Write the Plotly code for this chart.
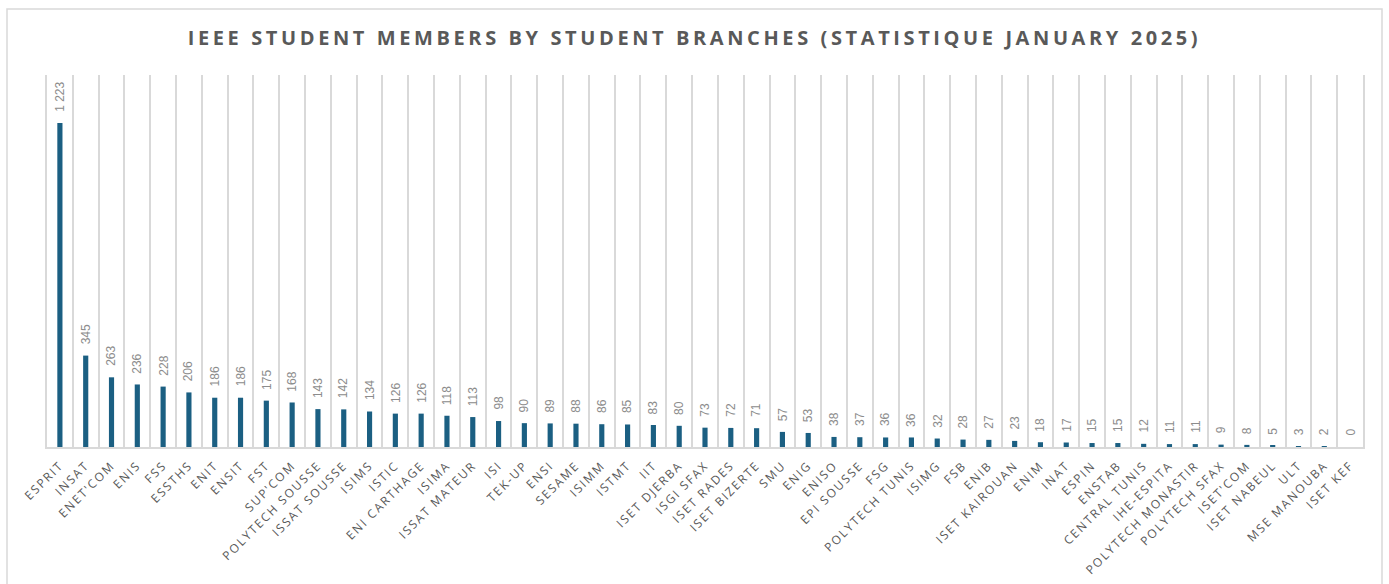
import plotly.graph_objects as go

branches = ["ESPRIT", "INSAT", "ENET'COM", "ENIS", "FSS", "ESSTHS", "ENIT", "ENSIT", "FST", "SUP'COM",
            "POLYTECH SOUSSE", "ISSAT SOUSSE", "ISIMS", "ISTIC", "ENI CARTHAGE", "ISIMA", "ISSAT MATEUR",
            "ISI", "TEK-UP", "ENSI", "SESAME", "ISIMM", "ISTMT", "IIT", "ISET DJERBA", "ISGI SFAX",
            "ISET RADES", "ISET BIZERTE", "SMU", "ENIG", "ENISO", "EPI SOUSSE", "FSG", "POLYTECH TUNIS",
            "ISIMG", "FSB", "ENIB", "ISET KAIROUAN", "ENIM", "INAT", "ESPIN", "ENSTAB", "CENTRAL TUNIS",
            "IHE-ESPITA", "POLYTECH MONASTIR", "POLYTECH SFAX", "ISET'COM", "ISET NABEUL", "ULT",
            "MSE MANOUBA", "ISET KEF"]
members = [1223, 345, 263, 236, 228, 206, 186, 186, 175, 168,
           143, 142, 134, 126, 126, 118, 113,
           98, 90, 89, 88, 86, 85, 83, 80, 73,
           72, 71, 57, 53, 38, 37, 36, 36,
           32, 28, 27, 23, 18, 17, 15, 15, 12,
           11, 11, 9, 8, 5, 3,
           2, 0]
labels = [f"{v:,}".replace(",", " ") for v in members]

W, H = 1389, 584
L, R, T, B = 47, 26, 75, 137
pw, ph = W - L - R, H - T - B

fig = go.Figure(go.Bar(
    x=branches, y=members,
    marker=dict(color="#1b5f82", line=dict(width=0)),
    width=0.2, hoverinfo="x+y",
))

for b, v, s in zip(branches, members, labels):
    fig.add_annotation(x=b, y=v, text=s, textangle=-90, showarrow=False,
                       xanchor="center", yanchor="bottom", yshift=9,
                       font=dict(family="Liberation Sans, Arial", size=12, color="#8c8c8c"))

def px_x(p):
    return (p - L) / pw

def px_y(p):
    return (H - B - p) / ph

fig.add_shape(type="rect", xref="paper", yref="paper",
              x0=px_x(7), x1=px_x(1382), y0=px_y(700), y1=px_y(9),
              line=dict(color="#d9d9d9", width=1.5), fillcolor="rgba(0,0,0,0)", layer="below")

fig.update_layout(
    width=W, height=H,
    margin=dict(l=L, r=R, t=T, b=B, pad=0, autoexpand=False),
    paper_bgcolor="white", plot_bgcolor="white",
    showlegend=False,
    title=dict(text="IEEE STUDENT MEMBERS BY STUDENT BRANCHES (STATISTIQUE JANUARY 2025)",
               x=0.5, xanchor="center", xref="container",
               y=1 - 38 / H, yanchor="middle", yref="container",
               font=dict(family="Open Sans", size=20, color="#595959", weight="bold")),
    xaxis=dict(type="category", tickson="boundaries", showgrid=True, gridcolor="#d9d9d9", gridwidth=1.5,
               tickangle=-45, tickfont=dict(family="Open Sans", size=12, color="#595959"),
               ticks="", ticklabelstandoff=5, showline=True, linecolor="#d9d9d9", linewidth=1.5,
               automargin=False, range=[-0.5, len(branches) - 0.5]),
    yaxis=dict(range=[0, 1404], showgrid=False, showticklabels=False, zeroline=False, automargin=False,
               showline=True, mirror=True, linecolor="#d9d9d9", linewidth=1.5, ticks=""),
)

post = """
document.body.style.margin = '0';
document.documentElement.style.overflow = 'hidden';
var gd = document.getElementById('{plot_id}');
gd.querySelectorAll('.gtitle').forEach(function(t){ t.style.letterSpacing = '3.6px'; });
gd.querySelectorAll('.xtick text').forEach(function(t){ t.style.letterSpacing = '1.8px'; });
"""
fig.write_html("out.html", post_script=post, config={"displayModeBar": False})
